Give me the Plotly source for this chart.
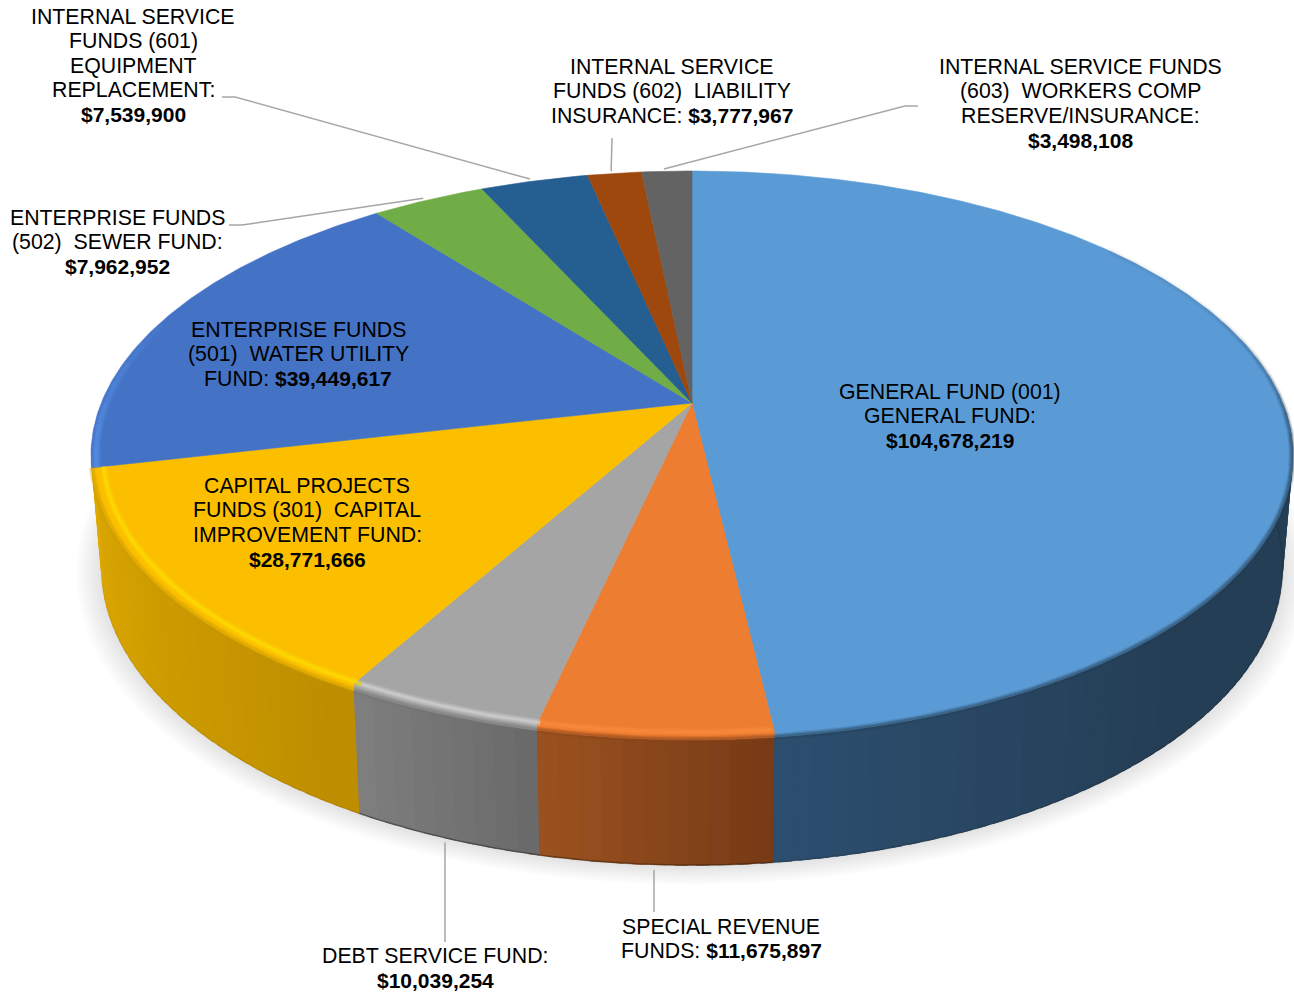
import numpy as np
import plotly.graph_objects as go

# Budget by fund, clockwise from twelve o'clock
funds = [
    "GENERAL FUND (001) GENERAL FUND",
    "SPECIAL REVENUE FUNDS",
    "DEBT SERVICE FUND",
    "CAPITAL PROJECTS FUNDS (301) CAPITAL IMPROVEMENT FUND",
    "ENTERPRISE FUNDS (501) WATER UTILITY FUND",
    "ENTERPRISE FUNDS (502) SEWER FUND",
    "INTERNAL SERVICE FUNDS (601) EQUIPMENT REPLACEMENT",
    "INTERNAL SERVICE FUNDS (602) LIABILITY INSURANCE",
    "INTERNAL SERVICE FUNDS (603) WORKERS COMP RESERVE/INSURANCE",
]
amounts = [104678219, 11675897, 10039254, 28771666, 39449617, 7962952, 7539900, 3777967, 3498108]

top_colors = ["#5b9bd5", "#ed7d31", "#a5a5a5", "#fcbf00", "#4472c4", "#70ad47", "#255e91", "#9e480e", "#636363"]

# Wall shading per slice, ordered clockwise: (position along the slice, colour)
wall_stops = {
    0: [(0.0, "#243e55"), (0.55, "#243e55"), (1.0, "#2c4e6f")],
    1: [(0.0, "#763a15"), (1.0, "#9c5220")],
    2: [(0.0, "#696969"), (1.0, "#7f7f7f")],
    3: [(0.0, "#bd8d00"), (0.6, "#d2a000"), (1.0, "#e0a900")],
}
foot_alpha = {0: 0.15, 1: 0.35, 2: 0.4, 3: 0.06}
# Bevel highlight per slice
glints = {1: "#ff9040", 2: "#dedede", 3: "#ffe400"}

label_lines = [
    ["GENERAL FUND (001)", "GENERAL FUND:", "{v}"],
    ["SPECIAL REVENUE", "FUNDS: {v}"],
    ["DEBT SERVICE FUND:", "{v}"],
    ["CAPITAL PROJECTS", "FUNDS (301)\u00a0 CAPITAL", "IMPROVEMENT FUND:", "{v}"],
    ["ENTERPRISE FUNDS", "(501)\u00a0 WATER UTILITY", "FUND: {v}"],
    ["ENTERPRISE FUNDS", "(502)\u00a0 SEWER FUND:", "{v}"],
    ["INTERNAL SERVICE", "FUNDS (601)", "EQUIPMENT", "REPLACEMENT:", "{v}"],
    ["INTERNAL SERVICE", "FUNDS (602)\u00a0 LIABILITY", "INSURANCE: {v}"],
    ["INTERNAL SERVICE FUNDS", "(603)\u00a0 WORKERS COMP", "RESERVE/INSURANCE:", "{v}"],
]
label_x = [950, 721, 435, 307, 298, 117, 133, 672, 1080]
label_top = [391.5, 926.5, 955.5, 485.5, 329.5, 217.5, 16.5, 66.5, 66.5]
LINE_STEP = 24.5
FONT = dict(family="Liberation Sans, Arial, sans-serif", size=21.3, color="#000000")
BOLD = "<b><span style='font-size:21px'>{}</span></b>"

# Leader lines: slice index -> fixed points running away from the rim
leaders = {
    1: [(654, 912)],
    2: [(445, 942)],
    5: [(242, 225), (229, 225)],
    6: [(235, 97), (222, 97)],
    7: [(612, 138)],
    8: [(905, 106), (918, 106)],
}

# Perspective disc: apex position and projection strengths
APEX_X, APEX_Y = 692.0, 403.0
TILT = 0.1845
SPREAD_X, SPREAD_Y = 590.7, 274.8
WALL_TAPER = 0.983
BEVEL_R = 0.985


def top_xy(theta, r=1.0):
    sx, cy = r * np.sin(theta), r * np.cos(theta)
    w = 1 + TILT * cy
    return APEX_X + SPREAD_X * sx / w, APEX_Y - SPREAD_Y * cy / w


def base_xy(theta, r=1.0):
    x, y = top_xy(theta, r)
    return APEX_X + WALL_TAPER * (x - APEX_X), y + 113 + (y - 470) * 0.047


def hex_rgb(c):
    return np.array([int(c[i:i + 2], 16) for i in (1, 3, 5)], float)


def blend(stops, t):
    xs = [s[0] for s in stops]
    rgb = [np.interp(t, xs, [hex_rgb(s[1])[k] for s in stops]) for k in range(3)]
    return "#%02x%02x%02x" % tuple(int(round(v)) for v in rgb)


def rgba(c, a):
    r, g, b = hex_rgb(c).astype(int)
    return f"rgba({r},{g},{b},{a:.3f})"


def arc(a, b, step=np.radians(0.5)):
    return np.linspace(a, b, max(2, int(abs(b - a) / step) + 1))


values = np.array(amounts, float)
edges = np.concatenate([[0], np.cumsum(values)]) / values.sum() * 2 * np.pi
mids = (edges[:-1] + edges[1:]) / 2

# Along the front the slice seams run straight down over the bevel
rim_edges = edges.copy()
for n in (1, 2, 3):
    target = top_xy(edges[n], BEVEL_R)[0]
    probe = np.linspace(edges[n] - 0.05, edges[n] + 0.05, 400)
    rim_edges[n] = probe[np.argmin(np.abs(top_xy(probe)[0] - target))]

fig = go.Figure()


def poly(x, y, fill, line=None, width=0):
    fig.add_trace(go.Scatter(
        x=x, y=y, mode="lines", fill="toself", fillcolor=fill,
        line=dict(color=line or fill, width=width), hoverinfo="skip", showlegend=False,
    ))


def stroke(x, y, color, width):
    fig.add_trace(go.Scatter(
        x=x, y=y, mode="lines", line=dict(color=color, width=width),
        hoverinfo="skip", showlegend=False,
    ))


# Soft drop shadow beneath the base
full = arc(0, 2 * np.pi, np.radians(1))
for r in np.linspace(1.042, 1.002, 14):
    sx, sy = base_xy(full, r)
    poly(sx, sy + 1, "rgba(0,0,0,0.0095)")

# Outer wall, built from shaded strips that run under their clockwise neighbour
wall_from, wall_to = np.radians(90), np.radians(262)
overlap = np.radians(1.0)
for i, stops in wall_stops.items():
    a0 = max(rim_edges[i], wall_from)
    a1 = wall_to if i == 3 else rim_edges[i + 1]
    cuts = np.linspace(a0, a1, max(3, int(np.degrees(a1 - a0) / 1.5)))
    for j in range(len(cuts) - 1):
        seg = np.linspace(cuts[j], min(cuts[j + 1] + overlap, wall_to), 5)
        tx, ty = top_xy(seg)
        bx, by = base_xy(seg)
        c = blend(stops, (j + 0.5) / (len(cuts) - 1))
        poly(np.r_[tx, bx[::-1]], np.r_[ty, by[::-1]], c)
for i, stops in wall_stops.items():
    # darker foot of the wall
    bx, by = base_xy(arc(max(rim_edges[i], wall_from), rim_edges[i + 1]))
    stroke(bx, by - 0.5, f"rgba(30,20,10,{foot_alpha[i]})", 1.6)

# Top face, with the seam kink at the bevel on the front slices
for i in range(len(values)):
    tx, ty = top_xy(arc(rim_edges[i], rim_edges[i + 1]))
    cx0, cy0 = top_xy(edges[i], BEVEL_R)
    cx1, cy1 = top_xy(edges[i + 1], BEVEL_R)
    poly(np.r_[APEX_X, cx0, tx, cx1, APEX_X], np.r_[APEX_Y, cy0, ty, cy1, APEX_Y],
         top_colors[i], top_colors[i], 0.6)

# Rounded rim: soft transition from the face into the wall
for i, stops in wall_stops.items():
    a0 = rim_edges[i]
    a1 = rim_edges[i + 1]
    tone = blend(stops, 0.5)
    if i == 0:
        # the dark edge fades out towards the back of the disc
        knots = np.radians(np.arange(52, 104, 4))
        for k in range(len(knots) - 1):
            tx, ty = top_xy(np.linspace(knots[k], knots[k + 1], 6), 0.999)
            f = ((k + 1) / (len(knots) - 1)) ** 2
            for w, al in [(7, 0.16), (5, 0.22), (3, 0.35)]:
                stroke(tx, ty, rgba(tone, al * max(f, 0.12)), w)
        a0 = knots[-1]
    tx, ty = top_xy(arc(a0, a1), 0.999)
    for w, al in [(7, 0.16), (5, 0.22), (3, 0.35)]:
        stroke(tx, ty, rgba(tone, al), w)

for i, c in glints.items():
    tx, ty = top_xy(arc(rim_edges[i], rim_edges[i + 1]), 0.981)
    for w, al in [(8, 0.14), (6, 0.2), (4, 0.25), (2, 0.35)]:
        stroke(tx, ty, rgba(c, al), w)

# Lighter lip on the water utility slice beside its lower seam
knots = np.linspace(edges[4], np.radians(292), 9)
for k in range(len(knots) - 1):
    tx, ty = top_xy(np.linspace(knots[k], knots[k + 1], 6), 0.992)
    f = 1 - k / (len(knots) - 1)
    for w, al in [(9, 0.22), (6, 0.3), (3, 0.3)]:
        stroke(tx, ty, rgba("#5b97ee", al * f), w)

# Leader lines from each slice's mid angle
for i, pts in leaders.items():
    if i in (1, 2):
        ax, ay = base_xy(mids[i], 1.0)
        ay += 5
        ax = pts[0][0]
    else:
        ax, ay = top_xy(mids[i] - np.radians(0.3), 1.012)
    xs = [ax] + [p[0] for p in pts]
    ys = [ay] + [p[1] for p in pts]
    stroke(xs, ys, "#a6a6a6", 1.5)

# Data labels, one annotation per text line
annotations = []
for i, lines in enumerate(label_lines):
    for k, line in enumerate(lines):
        annotations.append(dict(
            x=label_x[i], y=label_top[i] + k * LINE_STEP, xref="x", yref="y",
            text=line.format(v=BOLD.format(f"${amounts[i]:,}")), showarrow=False,
            xanchor="center", yanchor="middle", font=FONT, align="center",
        ))

fig.update_layout(
    width=1294, height=994, margin=dict(l=0, r=0, t=0, b=0, pad=0),
    paper_bgcolor="#ffffff", plot_bgcolor="#ffffff", showlegend=False,
    xaxis=dict(range=[0, 1294], visible=False, fixedrange=True),
    yaxis=dict(range=[994, 0], visible=False, fixedrange=True),
    annotations=annotations,
)
fig.write_html("out.html")
